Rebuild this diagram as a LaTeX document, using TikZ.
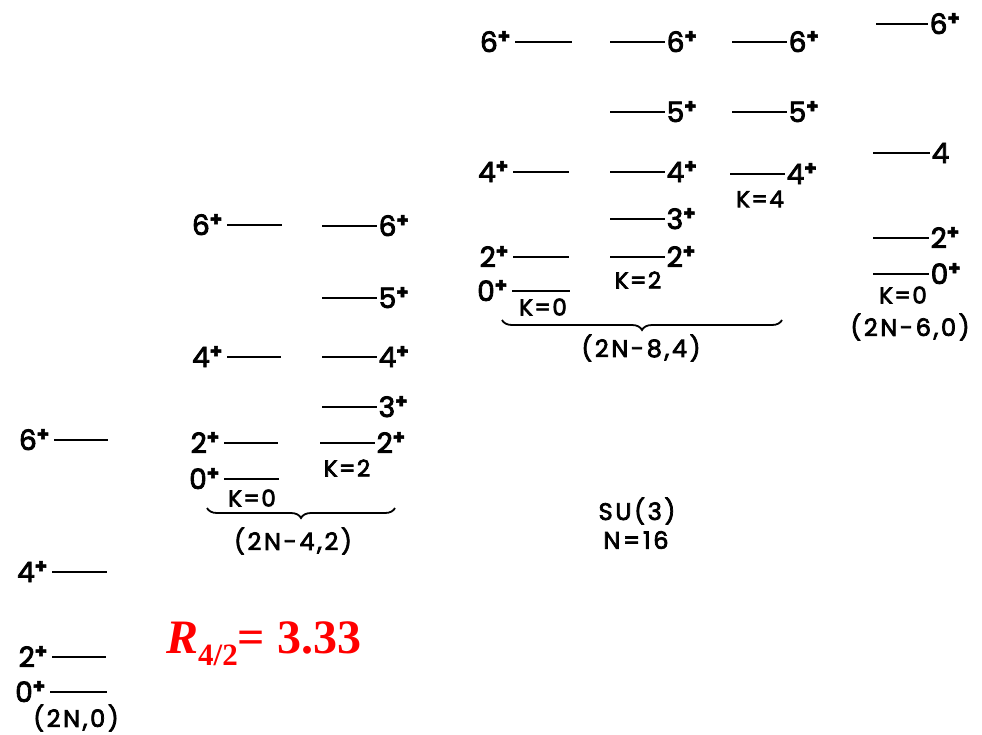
\documentclass[tikz,border=0pt]{standalone}
\usepackage{fontspec}
\setmainfont{Liberation Serif}
\newfontfamily\ler[LetterSpace=6,FakeBold=3]{Poppins}
\newfontfamily\lerk[LetterSpace=6,FakeBold=3]{Poppins}
\newfontfamily\lerw[LetterSpace=11,FakeBold=3]{Poppins}
\usetikzlibrary{decorations.pathreplacing}

\tikzset{
  x=1pt, y=-1pt,
  lvl/.style={line width=2.2pt},
  spin/.style={font=\ler\fontsize{28}{28}\selectfont, inner sep=0pt},
  kband/.style={font=\lerk\fontsize{23}{23}\selectfont, inner sep=0pt},
  rep/.style={font=\lerw\fontsize{24}{24}\selectfont, inner sep=0pt},
  grp/.style={decorate, decoration={brace, mirror, amplitude=10pt}, line width=1.8pt},
  ratio/.style={font=\fontsize{48}{48}\selectfont\bfseries, text=red, inner sep=0pt},
}
\newcommand\pp{\textsuperscript{\textbf{+}}}

% level line with its spin label on the left
\newcommand\lvlL[5]{%
  \coordinate (#1w) at (#2,#4); \coordinate (#1e) at (#3,#4);
  \draw[lvl] (#1w) -- (#1e);
  \node[spin, anchor=base east] (#1) at ([xshift=-3pt,yshift=-10pt]#1w) {#5};}
% level line with its spin label on the right
\newcommand\lvlR[5]{%
  \coordinate (#1w) at (#2,#4); \coordinate (#1e) at (#3,#4);
  \draw[lvl] (#1w) -- (#1e);
  \node[spin, anchor=base west] (#1) at ([xshift=1.5pt,yshift=-10pt]#1e) {#5};}

\begin{document}
\begin{tikzpicture}
\useasboundingbox (0,0) rectangle (982,734);

% ground band (2N,0)
\lvlL{a6}{54}{108}{440}{6\pp}
\lvlL{a4}{52}{107}{572}{4\pp}
\lvlL{a2}{52}{106}{657}{2\pp}
\lvlL{a0}{50}{107}{692}{0\pp}
\node[rep] (ra) at (76,718) {(2N,0)};

% (2N-4,2): K=0 and K=2 bands
\lvlL{b6}{227}{282}{225}{6\pp}
\lvlL{b4}{227}{281}{357}{4\pp}
\lvlL{b2}{224}{278}{443}{2\pp}
\lvlL{b0}{224}{279}{479}{0\pp}
\node[kband] (kb0) at (252,498) {K=0};
\lvlR{bb6}{322}{377}{226}{6\pp}
\lvlR{bb5}{322}{377}{298}{5\pp}
\lvlR{bb4}{322}{377}{357}{4\pp}
\lvlR{bb3}{322}{377}{407}{3\pp}
\lvlR{bb2}{320}{375}{443}{2\pp}
\node[kband] (kb2) at (347,468) {K=2};
\coordinate (brBl) at (207,508); \coordinate (brBr) at (395,508);
\draw[grp] (brBl) -- (brBr);
\node[rep] (rb) at (293,541) {(2N-4,2)};

% (2N-8,4): K=0, K=2 and K=4 bands
\lvlL{c6}{515}{572}{42}{6\pp}
\lvlL{c4}{513}{569}{172}{4\pp}
\lvlL{c2}{513}{569}{257}{2\pp}
\lvlL{c0}{512}{570}{291}{0\pp}
\node[kband] (kc0) at (543,307) {K=0};
\lvlR{cc6}{610}{665}{42}{6\pp}
\lvlR{cc5}{610}{665}{112}{5\pp}
\lvlR{cc4}{610}{665}{172}{4\pp}
\lvlR{cc3}{610}{665}{219}{3\pp}
\lvlR{cc2}{610}{665}{257}{2\pp}
\node[kband] (kc2) at (638,280) {K=2};
\lvlR{ccc6}{732}{787}{42}{6\pp}
\lvlR{ccc5}{732}{787}{112}{5\pp}
\lvlR{ccc4}{730}{785}{174}{4\pp}
\node[kband] (kc4) at (760,199) {K=4};
\coordinate (brCl) at (502,320); \coordinate (brCr) at (782,320);
\draw[grp] (brCl) -- (brCr);
\node[rep] (rc) at (641,348) {(2N-8,4)};

% (2N-6,0)
\lvlR{d6}{876}{928}{24}{6\pp}
\lvlR{d4}{873}{930}{153}{4}
\lvlR{d2}{873}{929}{238}{2\pp}
\lvlR{d0}{873}{929}{274}{0\pp}
\node[kband] (kd0) at (903,295) {K=0};
\node[rep] (rd) at (910,327) {(2N-6,0)};

% model label
\node[rep] (su) at (637,511) {SU(3)};
\node[rep] (nn) at (636,540) {N=16};

% energy ratio
\node[ratio, anchor=base west] (r42) at (166,653)
  {\itshape R\upshape\raisebox{-12pt}{\fontsize{31}{31}\selectfont 4/2}= 3.33};
\end{tikzpicture}
\end{document}
